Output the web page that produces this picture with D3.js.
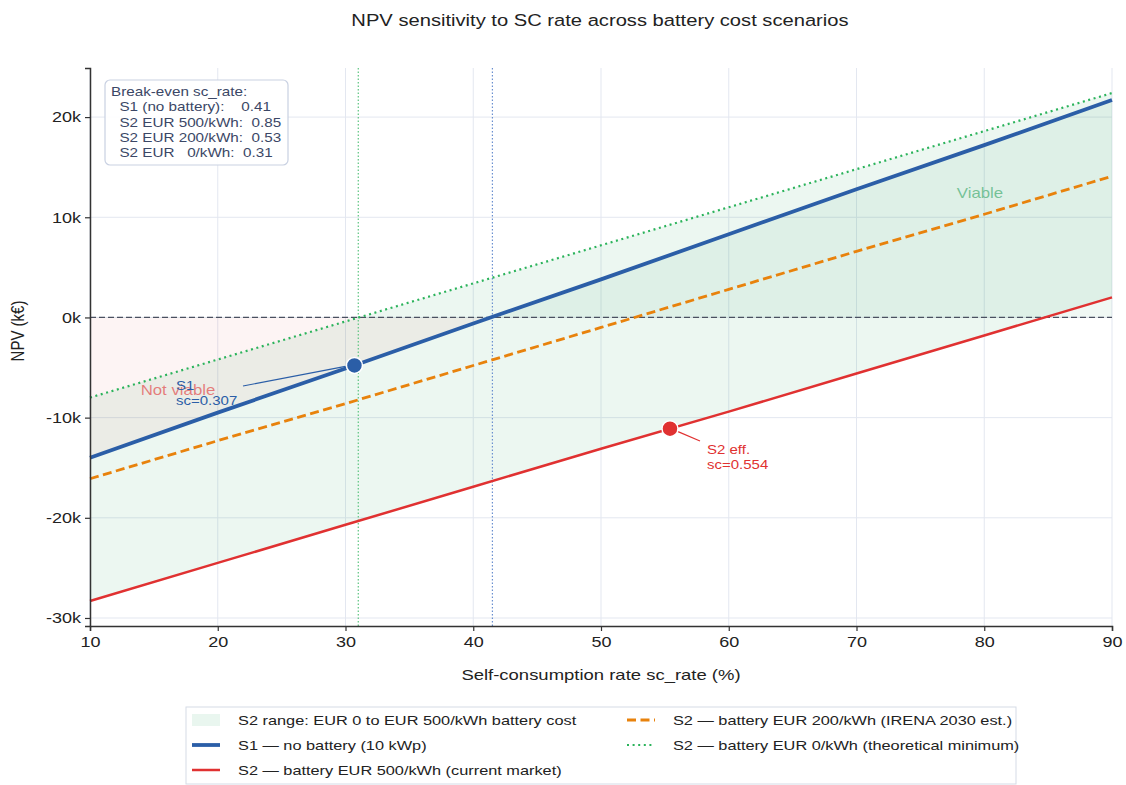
<!DOCTYPE html>
<html>
<head>
<meta charset="utf-8">
<script src="https://cdn.jsdelivr.net/npm/d3@7"></script>
<style>
body{margin:0;background:#fff;}
svg text{font-family:"Liberation Sans",Arial,sans-serif;}
</style>
</head>
<body>
<svg id="chart" width="1126" height="785"></svg>
<script>
// self-consumption rate (%)
var scRates = [10, 20, 30, 40, 50, 60, 70, 80, 90];
// NPV in k EUR
var npvS1 = [-14.0, -9.5, -5.1, -0.6, 3.8, 8.3, 12.8, 17.2, 21.7];
var npvS2_500 = [-28.3, -24.5, -20.7, -16.9, -13.1, -9.4, -5.6, -1.8, 2.0];
var npvS2_200 = [-16.1, -12.3, -8.6, -4.8, -1.0, 2.8, 6.6, 10.3, 14.1];
var npvS2_0 = [-8.0, -4.2, -0.4, 3.4, 7.2, 11.0, 14.8, 18.6, 22.4];

var xTicks = [10, 20, 30, 40, 50, 60, 70, 80, 90];
var yTicks = [-30, -20, -10, 0, 10, 20];

var breakEvenLines = ["Break-even sc_rate:", "  S1 (no battery):    0.41", "  S2 EUR 500/kWh:  0.85", "  S2 EUR 200/kWh:  0.53", "  S2 EUR   0/kWh:  0.31"];
var breakEvenS1 = 41.5, breakEvenS2_0 = 31.0;
var opS1 = 30.7, opS2 = 55.4; // operating points

var legendItems = [
	{label:"S2 range: EUR 0 to EUR 500/kWh battery cost", type:"patch"},
	{label:"S1 \u2014 no battery (10 kWp)", color:"#2b5ea7", w:3.8, dash:null},
	{label:"S2 \u2014 battery EUR 500/kWh (current market)", color:"#e03131", w:2.5, dash:null},
	{label:"S2 \u2014 battery EUR 200/kWh (IRENA 2030 est.)", color:"#e8820c", w:2.8, dash:"9,4.5"},
	{label:"S2 \u2014 battery EUR 0/kWh (theoretical minimum)", color:"#2bb35b", w:2.2, dash:"2,3.6"}
];

var SX = 1.2; // text in the picture is a bit wider than plain Arial
function stretch(sel){
	sel.each(function(){
		var t = d3.select(this);
		var ax = +t.attr("x") || 0;
		t.attr("transform", "translate(" + ax + ",0) scale(" + SX + ",1) translate(" + (-ax) + ",0)");
	});
}

var svg = d3.select("#chart");
var L = 90, R = 1112, T = 68, B = 626;
var x = d3.scaleLinear().domain([10, 90]).range([L, R]);
var y = d3.scaleLinear().domain([-30.8, 24.9]).range([B, T]);

function rows(vals){
	return scRates.map(function(s, i){return [s, vals[i]];});
}
function interp(vals, s){
	return d3.scaleLinear().domain(scRates).range(vals)(s);
}

// title
svg.append("text").attr("x", 600).attr("y", 26).attr("text-anchor", "middle")
	.attr("font-size", 16.8).attr("fill", "#222").text("NPV sensitivity to SC rate across battery cost scenarios")
	.call(stretch);

// grid
var grid = svg.append("g");
grid.selectAll(".gx").data(xTicks).enter().append("line")
	.attr("x1", function(d){return x(d);}).attr("x2", function(d){return x(d);})
	.attr("y1", T).attr("y2", B).attr("stroke", "#e3e7f0").attr("stroke-width", 1);
grid.selectAll(".gy").data(yTicks).enter().append("line")
	.attr("x1", L).attr("x2", R)
	.attr("y1", function(d){return y(d);}).attr("y2", function(d){return y(d);})
	.attr("stroke", "#e3e7f0").attr("stroke-width", 1);

var defs = svg.append("defs");
defs.append("clipPath").attr("id", "below0").append("rect")
	.attr("x", L).attr("y", y(0)).attr("width", R - L).attr("height", B - y(0));
defs.append("clipPath").attr("id", "above0").append("rect")
	.attr("x", L).attr("y", T).attr("width", R - L).attr("height", y(0) - T);

// S2 range band
var band = d3.area().x(function(d){return x(d[0]);})
	.y0(function(d){return y(d[1]);}).y1(function(d){return y(d[2]);});
svg.append("path").datum(scRates.map(function(s, i){return [s, npvS2_500[i], npvS2_0[i]];}))
	.attr("d", band).attr("fill", "#2ca25f").attr("fill-opacity", 0.09);

// not viable / viable shading between S1 and zero
var s1zero = d3.area().x(function(d){return x(d[0]);})
	.y0(function(){return y(0);}).y1(function(d){return y(d[1]);});
svg.append("path").datum(rows(npvS1)).attr("d", s1zero)
	.attr("clip-path", "url(#below0)").attr("fill", "#e03131").attr("fill-opacity", 0.05);
svg.append("path").datum(rows(npvS1)).attr("d", s1zero)
	.attr("clip-path", "url(#above0)").attr("fill", "#2ca25f").attr("fill-opacity", 0.07);

svg.append("text").attr("x", 178).attr("y", 395).attr("text-anchor", "middle")
	.attr("font-size", 14).attr("fill", "#e03131").attr("fill-opacity", 0.6).text("Not viable").call(stretch);
svg.append("text").attr("x", 980).attr("y", 198).attr("text-anchor", "middle")
	.attr("font-size", 14).attr("fill", "#2ca25f").attr("fill-opacity", 0.6).text("Viable").call(stretch);

// zero line
svg.append("line").attr("x1", L).attr("x2", R).attr("y1", y(0)).attr("y2", y(0))
	.attr("stroke", "#4a5060").attr("stroke-width", 1.3).attr("stroke-dasharray", "6,3");

// break-even verticals
svg.append("line").attr("x1", x(breakEvenS2_0)).attr("x2", x(breakEvenS2_0)).attr("y1", T).attr("y2", B)
	.attr("stroke", "#5cc47f").attr("stroke-width", 1.2).attr("stroke-dasharray", "1.5,2");
svg.append("line").attr("x1", x(breakEvenS1)).attr("x2", x(breakEvenS1)).attr("y1", T).attr("y2", B)
	.attr("stroke", "#6a8fd0").attr("stroke-width", 1.2).attr("stroke-dasharray", "1.5,2");

// series lines
var line = d3.line().x(function(d){return x(d[0]);}).y(function(d){return y(d[1]);});
var series = [
	{vals:npvS2_0, item:legendItems[4]},
	{vals:npvS2_200, item:legendItems[3]},
	{vals:npvS2_500, item:legendItems[2]},
	{vals:npvS1, item:legendItems[1]}
];
series.forEach(function(s){
	svg.append("path").datum(rows(s.vals)).attr("d", line).attr("fill", "none")
		.attr("stroke", s.item.color).attr("stroke-width", s.item.w)
		.attr("stroke-dasharray", s.item.dash);
});

// operating points + annotations
var p1 = [x(opS1), y(interp(npvS1, opS1))];
var p2 = [x(opS2), y(interp(npvS2_500, opS2))];
svg.append("line").attr("x1", 243).attr("y1", 386).attr("x2", p1[0] - 9).attr("y2", p1[1] + 1)
	.attr("stroke", "#2b5ea7").attr("stroke-width", 1.2);
svg.append("line").attr("x1", 700).attr("y1", 441).attr("x2", p2[0] + 8).attr("y2", p2[1] + 3)
	.attr("stroke", "#e03131").attr("stroke-width", 1.2);
svg.append("circle").attr("cx", p1[0]).attr("cy", p1[1]).attr("r", 8)
	.attr("fill", "#2b5ea7").attr("stroke", "#fff").attr("stroke-width", 1.5);
svg.append("circle").attr("cx", p2[0]).attr("cy", p2[1]).attr("r", 8)
	.attr("fill", "#e03131").attr("stroke", "#fff").attr("stroke-width", 1.5);

var a1 = svg.append("text").attr("x", 176).attr("font-size", 12.5).attr("fill", "#2b5ea7");
a1.append("tspan").attr("x", 176).attr("y", 390).text("S1");
a1.append("tspan").attr("x", 176).attr("y", 405).text("sc=0.307");
a1.call(stretch);
var a2 = svg.append("text").attr("x", 707).attr("font-size", 12.5).attr("fill", "#e03131");
a2.append("tspan").attr("x", 707).attr("y", 454).text("S2 eff.");
a2.append("tspan").attr("x", 707).attr("y", 469).text("sc=0.554");
a2.call(stretch);

// axes
var xAxis = svg.append("g").attr("transform", "translate(0," + B + ")")
	.call(d3.axisBottom(x).tickValues(xTicks).tickSize(5).tickPadding(5));
var yAxis = svg.append("g").attr("transform", "translate(" + L + ",0)")
	.call(d3.axisLeft(y).tickValues(yTicks).tickSize(5).tickPadding(4)
		.tickFormat(function(d){return d + "k";}));
[xAxis, yAxis].forEach(function(a){
	a.select(".domain").attr("stroke", "#333").attr("stroke-width", 1.5);
	a.selectAll(".tick line").attr("stroke", "#333").attr("stroke-width", 1.2);
	a.selectAll(".tick text").attr("font-size", 15).attr("fill", "#222")
		.attr("font-family", "Liberation Sans, Arial, sans-serif").call(stretch);
});
svg.append("text").attr("x", 601).attr("y", 680).attr("text-anchor", "middle")
	.attr("font-size", 15.4).attr("fill", "#222").text("Self-consumption rate sc_rate (%)").call(stretch);
svg.append("text").attr("transform", "translate(24,331) scale(" + SX + ",1) rotate(-90)").attr("text-anchor", "middle")
	.attr("font-size", 15).attr("fill", "#222").text("NPV (k\u20ac)");

// break-even box
var bx = svg.append("g");
bx.append("rect").attr("x", 105).attr("y", 80).attr("width", 183).attr("height", 85).attr("rx", 5)
	.attr("fill", "#fff").attr("fill-opacity", 0.9).attr("stroke", "#c9d1e2").attr("stroke-width", 1.2);
bx.selectAll("text").data(breakEvenLines).enter().append("text")
	.attr("x", 111).attr("y", function(d, i){return 96 + i * 15.3;})
	.attr("font-size", 12.7).attr("fill", "#3b4766").attr("xml:space", "preserve")
	.style("white-space", "pre").text(function(d){return d;}).call(stretch);

// legend
var lg = svg.append("g");
lg.append("rect").attr("x", 186).attr("y", 707).attr("width", 830).attr("height", 77)
	.attr("fill", "#fff").attr("stroke", "#d5dbe6").attr("stroke-width", 1);
var lgPos = [[192, 720], [192, 745], [192, 770], [627, 720], [627, 745]];
legendItems.forEach(function(it, i){
	var p = lgPos[i];
	if (it.type === "patch") {
		lg.append("rect").attr("x", p[0]).attr("y", p[1] - 6).attr("width", 28).attr("height", 12)
			.attr("fill", "#2ca25f").attr("fill-opacity", 0.1);
	} else {
		lg.append("line").attr("x1", p[0]).attr("x2", p[0] + 28).attr("y1", p[1]).attr("y2", p[1])
			.attr("stroke", it.color).attr("stroke-width", it.w).attr("stroke-dasharray", it.dash);
	}
	lg.append("text").attr("x", p[0] + 46).attr("y", p[1] + 5).attr("font-size", 13.6)
		.attr("fill", "#222").text(it.label).call(stretch);
});
</script>
</body>
</html>
